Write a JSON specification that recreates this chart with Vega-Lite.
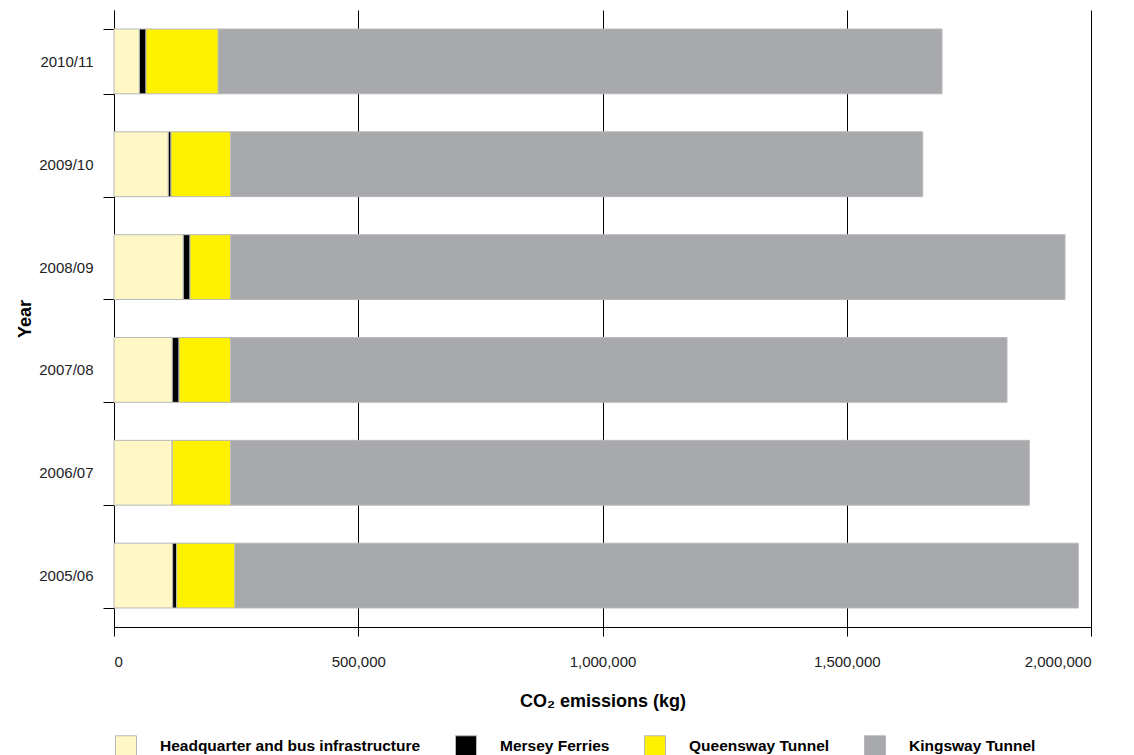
{
  "$schema": "https://vega.github.io/schema/vega-lite/v6.json",
  "autosize": "none",
  "width": 977,
  "height": 617,
  "padding": {"left": 114, "top": 10, "right": 43, "bottom": 128},
  "background": "white",
  "config": {
    "font": "Liberation Sans",
    "view": {"stroke": null},
    "axis": {"labelFont": "Liberation Sans", "titleFont": "Liberation Sans"}
  },
  "data": {
    "values": [
      {"year": "2010/11", "source": "Headquarter and bus infrastructure", "kg": 52000},
      {"year": "2010/11", "source": "Mersey Ferries", "kg": 13500},
      {"year": "2010/11", "source": "Queensway Tunnel", "kg": 148000},
      {"year": "2010/11", "source": "Kingsway Tunnel", "kg": 1481500},
      {"year": "2009/10", "source": "Headquarter and bus infrastructure", "kg": 111200},
      {"year": "2009/10", "source": "Mersey Ferries", "kg": 5500},
      {"year": "2009/10", "source": "Queensway Tunnel", "kg": 122200},
      {"year": "2009/10", "source": "Kingsway Tunnel", "kg": 1416600},
      {"year": "2008/09", "source": "Headquarter and bus infrastructure", "kg": 141900},
      {"year": "2008/09", "source": "Mersey Ferries", "kg": 13700},
      {"year": "2008/09", "source": "Queensway Tunnel", "kg": 83300},
      {"year": "2008/09", "source": "Kingsway Tunnel", "kg": 1707900},
      {"year": "2007/08", "source": "Headquarter and bus infrastructure", "kg": 119400},
      {"year": "2007/08", "source": "Mersey Ferries", "kg": 13700},
      {"year": "2007/08", "source": "Queensway Tunnel", "kg": 105800},
      {"year": "2007/08", "source": "Kingsway Tunnel", "kg": 1589100},
      {"year": "2006/07", "source": "Headquarter and bus infrastructure", "kg": 119400},
      {"year": "2006/07", "source": "Mersey Ferries", "kg": 0},
      {"year": "2006/07", "source": "Queensway Tunnel", "kg": 119500},
      {"year": "2006/07", "source": "Kingsway Tunnel", "kg": 1634800},
      {"year": "2005/06", "source": "Headquarter and bus infrastructure", "kg": 120100},
      {"year": "2005/06", "source": "Mersey Ferries", "kg": 8200},
      {"year": "2005/06", "source": "Queensway Tunnel", "kg": 119400},
      {"year": "2005/06", "source": "Kingsway Tunnel", "kg": 1726300}
    ]
  },
  "transform": [
    {"calculate": "indexof(['Headquarter and bus infrastructure', 'Mersey Ferries', 'Queensway Tunnel', 'Kingsway Tunnel'], datum.source)", "as": "stackOrder"}
  ],
  "mark": {"type": "bar", "stroke": "#b8b8b8", "strokeWidth": 1},
  "encoding": {
    "y": {
      "field": "year",
      "type": "nominal",
      "sort": "descending",
      "scale": {"paddingInner": 0.37, "paddingOuter": 0.185},
      "axis": {
        "title": "Year",
        "titleFontSize": 18,
        "titleFontWeight": "bold",
        "titleColor": "#000",
        "titlePadding": 4,
        "labelFontSize": 15,
        "labelColor": "#222",
        "labelPadding": 10,
        "tickBand": "extent",
        "tickSize": 11,
        "tickColor": "#000",
        "domainColor": "#000",
        "grid": false
      }
    },
    "x": {
      "field": "kg",
      "type": "quantitative",
      "stack": "zero",
      "scale": {"domain": [0, 2000000], "nice": false},
      "axis": {
        "title": "CO₂ emissions (kg)",
        "titleFontSize": 18,
        "titleFontWeight": "bold",
        "titleColor": "#000",
        "titlePadding": 23,
        "values": [0, 500000, 1000000, 1500000, 2000000],
        "format": ",d",
        "labelFontSize": 15,
        "labelColor": "#222",
        "labelPadding": 18,
        "tickSize": 9,
        "tickColor": "#000",
        "domainColor": "#000",
        "grid": true,
        "gridColor": "#000",
        "gridOpacity": 1
      }
    },
    "color": {
      "field": "source",
      "type": "nominal",
      "sort": ["Headquarter and bus infrastructure", "Mersey Ferries", "Queensway Tunnel", "Kingsway Tunnel"],
      "scale": {
        "domain": ["Headquarter and bus infrastructure", "Mersey Ferries", "Queensway Tunnel", "Kingsway Tunnel"],
        "range": ["#fff8c6", "#000000", "#fff200", "#a7a9ac"]
      },
      "legend": {
        "title": null,
        "orient": "none",
        "legendX": 1,
        "legendY": 725,
        "direction": "horizontal",
        "columns": 4,
        "padding": 0,
        "columnPadding": 32,
        "labelOffset": 23,
        "labelFontSize": 15.5,
        "labelFontWeight": "bold",
        "labelColor": "#000",
        "labelLimit": 400,
        "symbolType": "square",
        "symbolSize": 441,
        "symbolStrokeColor": "#b8b8b8",
        "symbolStrokeWidth": 1,
        "symbolOpacity": 1
      }
    },
    "order": {"field": "stackOrder", "type": "quantitative", "sort": "ascending"}
  }
}
